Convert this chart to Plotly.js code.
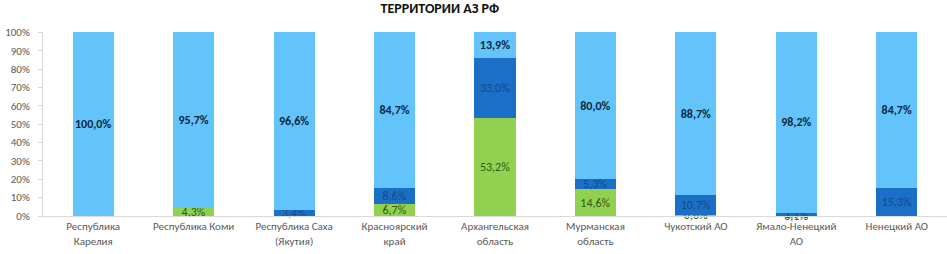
<!DOCTYPE html>
<html>
<head>
<meta charset="utf-8">
<script src="https://cdn.plot.ly/plotly-3.0.1.min.js"></script>
<style>html,body{margin:0;padding:0;background:#fff;}#chart{width:947px;height:254px;}</style>
</head>
<body>
<div id="chart"></div>
<script>
var categories = [
  "Республика<br>Карелия",
  "Республика Коми",
  "Республика Саха<br>(Якутия)",
  "Красноярский<br>край",
  "Архангельская<br>область",
  "Мурманская<br>область",
  "Чукотский АО",
  "Ямало-Ненецкий<br>АО",
  "Ненецкий АО"
];
var greenValues = [0, 4.3, 0, 6.7, 53.2, 14.6, 0.6, 0.1, 0];
var darkBlueValues = [0, 0, 3.4, 8.6, 33.0, 5.3, 10.7, 1.7, 15.3];
var lightBlueValues = [100.0, 95.7, 96.6, 84.7, 13.9, 80.0, 88.7, 98.2, 84.7];
var yTickVals = [0,10,20,30,40,50,60,70,80,90,100];
var yTickText = ["0%","10%","20%","30%","40%","50%","60%","70%","80%","90%","100%"];

var FONT = "Calibri, Carlito, 'Liberation Sans Narrow', 'Liberation Sans', Arial, sans-serif";
function labels(arr){ return arr.map(function(v){ return v > 0 ? v.toFixed(1).replace('.', ',') + '%' : ''; }); }

function series(vals, color, txtColor, bold){
  return {
    type: 'bar', x: categories, y: vals,
    marker: {color: color, line: {width: 0}},
    text: labels(vals), texttemplate: bold ? '<b>%{text}</b>' : '%{text}',
    textposition: 'inside', insidetextanchor: 'middle', constraintext: 'none',
    textangle: 0,
    textfont: {family: FONT, size: 12, color: txtColor},
    hoverinfo: 'none', showlegend: false, cliponaxis: false
  };
}

var data = [
  series(greenValues, '#92d050', '#2f5a17', false),
  series(darkBlueValues, '#1c6fc7', '#154a85', false),
  series(lightBlueValues, '#62c4fa', '#0d2740', true)
];

var layout = {
  width: 947, height: 254,
  margin: {l: 43, r: 0, t: 32, b: 38, pad: 0},
  paper_bgcolor: '#fff', plot_bgcolor: '#fff',
  barmode: 'stack', bargap: 0.59,
  uniformtext: {mode: 'show', minsize: 12},
  title: {text: '<b>ТЕРРИТОРИИ АЗ РФ</b>', font: {family: FONT, size: 14, color: '#111'},
          x: 0.439, xanchor: 'center', xref: 'paper', y: 0.97, yanchor: 'middle'},
  xaxis: {
    type: 'category', showgrid: false, zeroline: false,
    showline: true, linecolor: '#d9d9d9', linewidth: 1,
    ticks: 'outside', ticklen: 0, tickcolor: '#d9d9d9',
    tickfont: {family: FONT, size: 11, color: '#595959'},
    fixedrange: true
  },
  yaxis: {
    range: [0, 100.15], tickvals: yTickVals, ticktext: yTickText,
    showgrid: false, zeroline: false,
    showline: true, linecolor: '#d9d9d9', linewidth: 1,
    ticks: 'outside', ticklen: 4, tickcolor: '#d9d9d9',
    ticklabelstandoff: 6,
    tickfont: {family: FONT, size: 11, color: '#595959'},
    fixedrange: true
  }
};

Plotly.newPlot('chart', data, layout, {displayModeBar: false, staticPlot: true});
</script>
</body>
</html>
